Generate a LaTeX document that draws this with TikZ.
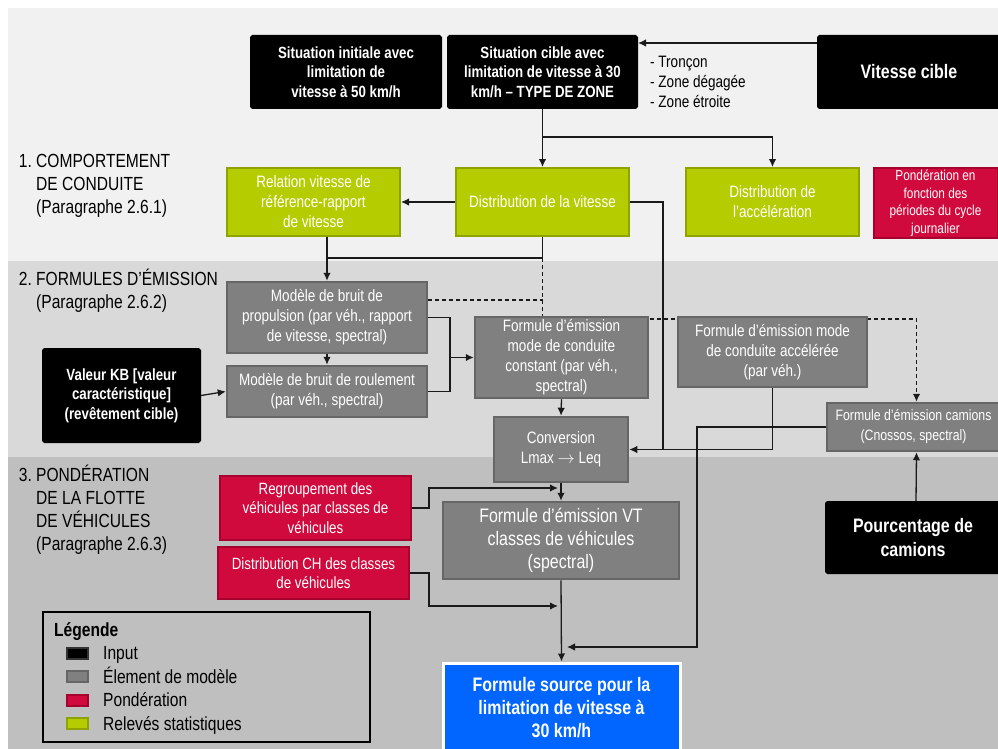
\documentclass[tikz,border=0pt]{standalone}
\usepackage{fontspec}
\setmainfont{Liberation Sans}[FakeStretch=0.82]
\usetikzlibrary{positioning}
\usetikzlibrary{calc}
\usetikzlibrary{arrows.meta}

\definecolor{bandA}{HTML}{F1F1F1}
\definecolor{bandB}{HTML}{D9D9D9}
\definecolor{bandC}{HTML}{BFBFBF}
\definecolor{modelfill}{HTML}{808080}
\definecolor{modeldraw}{HTML}{666666}
\definecolor{statfill}{HTML}{B5CC00}
\definecolor{statdraw}{HTML}{8EA300}
\definecolor{weightfill}{HTML}{D00A3C}
\definecolor{weightdraw}{HTML}{A8002E}
\definecolor{resultfill}{HTML}{0066FF}
\definecolor{legblack}{HTML}{333333}
\definecolor{wirecol}{HTML}{1A1A1A}

\pgfdeclarelayer{bands}
\pgfdeclarelayer{wires}
\pgfsetlayers{bands,wires,main}

\tikzset{
  box/.style={draw, line width=2pt, inner sep=0pt, align=center, text=white},
  inputbox/.style={box, fill=black, draw=black, rounded corners=1.5pt,
    font=\fontsize{16.2}{19.5}\selectfont\bfseries},
  modelbox/.style={box, fill=modelfill, draw=modeldraw, line width=2.5pt,
    font=\fontsize{16.5}{20}\selectfont},
  statbox/.style={box, fill=statfill, draw=statdraw,
    font=\fontsize{16.5}{20}\selectfont},
  weightbox/.style={box, fill=weightfill, draw=weightdraw,
    font=\fontsize{16.3}{19.5}\selectfont},
  resultbox/.style={box, fill=resultfill, draw=white, line width=3pt,
    font=\fontsize{19.5}{23.3}\selectfont\bfseries},
  tip/.style={-{Latex[length=8pt,width=7.5pt]}},
  wire/.style={draw=wirecol, line width=1.3pt},
  arr/.style={wire, tip},
  dashwire/.style={wire, dash pattern=on 4pt off 3pt},
  sectlabel/.style={anchor=north west, align=left, inner sep=0pt,
    font=\fontsize{19}{23.2}\selectfont},
  swatch/.style={draw, line width=2pt, minimum width=21, minimum height=11, inner sep=0pt},
  legtext/.style={inner sep=0pt, font=\fontsize{19}{23}\selectfont},
}

\begin{document}
\begin{tikzpicture}[x=1pt,y=-1pt]
  \useasboundingbox (0,0) rectangle (998,749);
  \def\strutA{\rule{0pt}{18pt}}

  % bands
  \begin{pgfonlayer}{bands}
    \fill[white] (0,0) rectangle (998,749);
    \fill[bandA] (8,8) rectangle (998,261);
    \fill[bandB] (8,261) rectangle (998,457);
    \fill[bandC] (8,457) rectangle (998,749);
  \end{pgfonlayer}

  % section labels
  \node[sectlabel] (sect1) at (36,149) {\strutA\llap{1.\ }COMPORTEMENT\\DE CONDUITE\\(Paragraphe 2.6.1)};
  \node[sectlabel] (sect2) at (36,267) {\strutA\llap{2.\ }FORMULES D'ÉMISSION\\(Paragraphe 2.6.2)};
  \node[sectlabel] (sect3) at (36,463) {\strutA\llap{3.\ }PONDÉRATION\\DE LA FLOTTE\\DE VÉHICULES\\(Paragraphe 2.6.3)};

  % inputs
  \node[inputbox, minimum width=190, minimum height=72] (sitini) at (346,72)
    {Situation initiale avec\\limitation de\\vitesse à 50 km/h};
  \node[inputbox, minimum width=189, minimum height=72] (sitcib) at (542.5,72)
    {Situation cible avec\\limitation de vitesse à 30\\km/h – TYPE DE ZONE};
  \node[inputbox, minimum width=182, minimum height=72, font=\fontsize{19.5}{23}\selectfont\bfseries] (vitcib) at (909,72)
    {Vitesse cible};
  \node[anchor=north west, align=left, inner sep=0pt, font=\fontsize{16.5}{20}\selectfont] (zones) at (650,52)
    {\rule{0pt}{15pt}- Tronçon\\- Zone dégagée\\- Zone étroite};
  \node[inputbox, minimum width=157, minimum height=93] (kb) at (121.5,395.5)
    {Valeur KB [valeur\\caractéristique]\\(revêtement cible)};
  \node[inputbox, minimum width=174, minimum height=71, font=\fontsize{19.5}{23.3}\selectfont\bfseries] (pourc) at (913,537.5)
    {Pourcentage de\\camions};

  % statistical surveys
  \node[statbox, minimum width=173, minimum height=68] (relvit) at (313.5,202)
    {Relation vitesse de\\référence-rapport\\de vitesse};
  \node[statbox, minimum width=173, minimum height=68] (distvit) at (542.5,202)
    {Distribution de la vitesse};
  \node[statbox, minimum width=173, minimum height=68] (distacc) at (772.5,202)
    {Distribution de\\l’accélération};

  % weightings
  \node[weightbox, minimum width=124, minimum height=70, font=\fontsize{14.4}{17.6}\selectfont] (pondcyc) at (935.5,203)
    {Pondération en\\fonction des\\périodes du cycle\\journalier};
  \node[weightbox, minimum width=191, minimum height=64] (regroup) at (315.5,508)
    {Regroupement des\\véhicules par classes de\\véhicules};
  \node[weightbox, minimum width=191, minimum height=52] (distch) at (313.5,573)
    {Distribution CH des classes\\de véhicules};

  % model elements
  \node[modelbox, minimum width=200, minimum height=71] (propul) at (327,317.5)
    {Modèle de bruit de\\propulsion (par véh., rapport\\de vitesse, spectral)};
  \node[modelbox, minimum width=200, minimum height=51] (roul) at (327,391.5)
    {Modèle de bruit de roulement\\(par véh., spectral)};
  \node[modelbox, minimum width=173, minimum height=81] (fconst) at (561.5,357.5)
    {Formule d’émission\\mode de conduite\\constant (par véh.,\\spectral)};
  \node[modelbox, minimum width=134, minimum height=65] (conv) at (561,449.5)
    {Conversion\\Lmax $\rightarrow$ Leq};
  \node[modelbox, minimum width=189, minimum height=70] (facc) at (772.5,352)
    {Formule d’émission mode\\de conduite accélérée\\(par véh.)};
  \node[modelbox, minimum width=173, minimum height=48, font=\fontsize{15}{20}\selectfont] (fcam) at (913.5,427)
    {Formule d’émission camions\\(Cnossos, spectral)};
  \node[modelbox, minimum width=236, minimum height=77, font=\fontsize{19.5}{23.3}\selectfont] (fvt) at (561,540.5)
    {Formule d’émission VT\\classes de véhicules\\(spectral)};

  % result
  \node[resultbox, minimum width=237, minimum height=89] (fsrc) at (561.5,707.5)
    {Formule source pour la\\limitation de vitesse à\\30 km/h};

  % legend
  \node[draw=black, line width=2.5pt, minimum width=327, minimum height=130, inner sep=0pt] (legbox) at (206.5,677) {};
  \node[anchor=base west, inner sep=0pt, font=\fontsize{19}{23}\selectfont\bfseries] (legtitle) at (54,636) {Légende};
  \foreach \f/\b/\t [count=\i] in {black/legblack/Input, modelfill/modeldraw/Élement de modèle,
      weightfill/weightdraw/Pondération, statfill/statdraw/Relevés statistiques} {
    \node[swatch, fill=\f, draw=\b] (sw\i) at (77.5,{653+23.5*(\i-1)}) {};
    \node[legtext, anchor=base west] (leg\i) at (103,{659.5+23.5*(\i-1)}) {\t};
  }

  % connectors
  \begin{pgfonlayer}{wires}
    \draw[arr] ([yshift=-8pt]vitcib.north west) -- ([yshift=-8pt]sitcib.north east);
    \coordinate (jsplit) at (sitcib.south |- 0,137);
    \draw[arr] (sitcib.south) -- (distvit.north);
    \draw[arr] (jsplit) -| (distacc.north);

    \draw[arr] (distvit.west) -- (relvit.east);
    \draw[arr] (relvit.south -| propul.north) -- (propul.north);
    \coordinate (jprop) at (distvit.south |- 0,258);
    \draw[wire] (distvit.south) -- (jprop) -- (propul.north |- jprop);

    \coordinate (jdash) at (distvit.south |- 0,319);
    \draw[dashwire, tip] (jprop) -- (jdash) -| ([xshift=3pt]fcam.north);
    \draw[dashwire] (propul.east |- 0,300) -- (jprop |- 0,300);

    \draw[arr] (propul.south) -- (roul.north);
    \draw[arr] (kb.east) -- (roul.west);
    \coordinate (jmerge) at (450,357.5);
    \draw[wire] (propul.east) -| (jmerge);
    \draw[wire] (roul.east) -| (jmerge);
    \draw[arr] (jmerge) -- (fconst.west);

    \draw[arr] (fconst.south) -- (conv.north);
    \coordinate (jconv) at (663,449.5);
    \draw[arr] (distvit.east) -| (jconv) -- (conv.east);
    \draw[wire] (facc.south) |- (jconv);

    \coordinate (jcam) at (697,647);
    \coordinate (jcamend) at (567,647);
    \draw[arr] (fcam.west) -| (jcam) -- (jcamend);

    \draw[arr] (conv.south) -- (fvt.north);
    \coordinate (jreg) at (558,488);
    \draw[arr] (regroup.east) -- ++(17,0) |- (jreg);
    \coordinate (jch) at (558,606);
    \draw[arr] (distch.east) -- ++(19,0) |- (jch);
    \draw[arr] (fvt.south) -- (fsrc.north);
    \draw[arr] ([xshift=3pt]pourc.north) -- ([xshift=3pt]fcam.south);
  \end{pgfonlayer}
\end{tikzpicture}
\end{document}
